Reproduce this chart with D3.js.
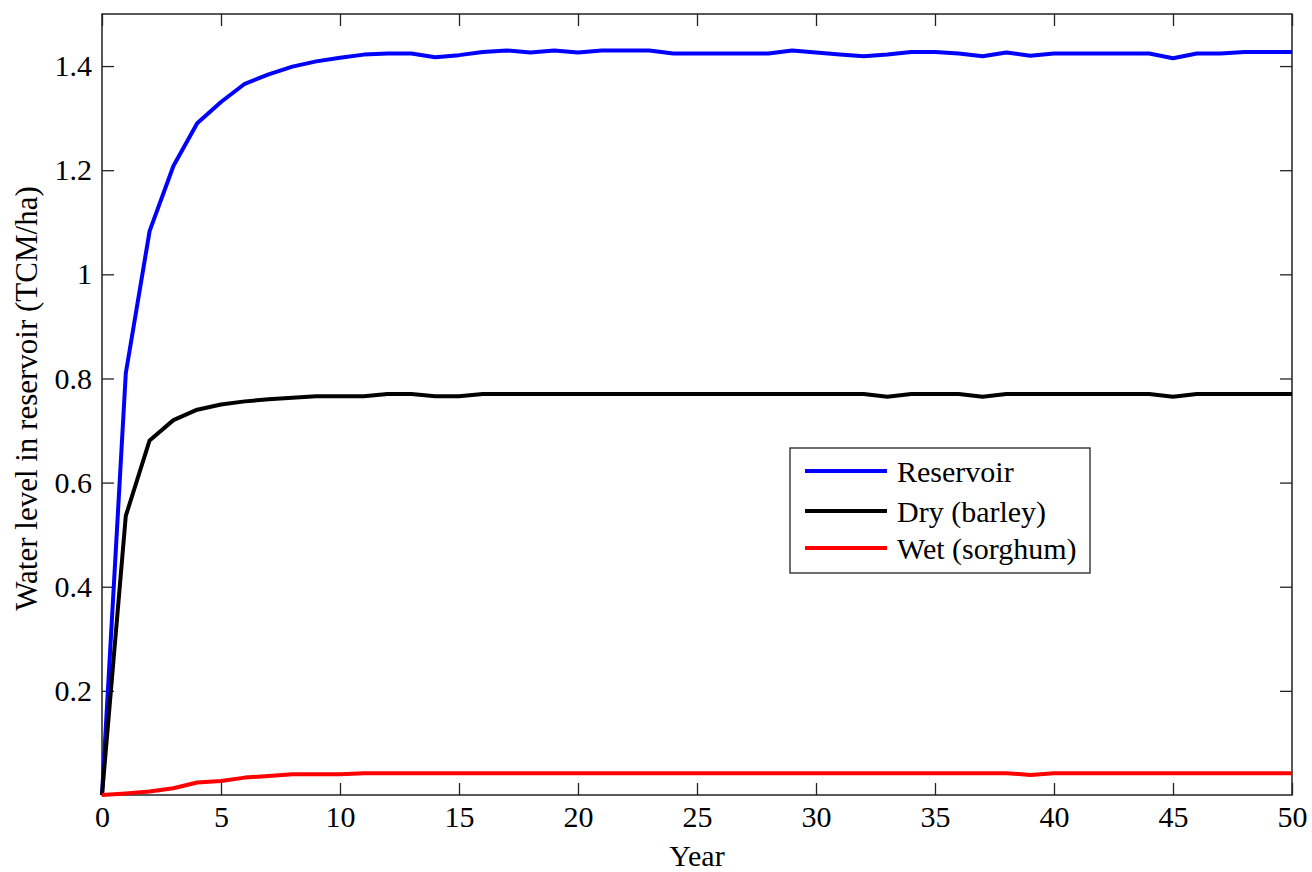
<!DOCTYPE html>
<html>
<head>
<meta charset="utf-8">
<script src="https://cdn.jsdelivr.net/npm/d3@7"></script>
<style>
  html, body { margin: 0; padding: 0; background: #fff; }
  svg { display: block; }
  svg text { font-family: "Liberation Serif", "Tinos", "Times New Roman", "DejaVu Serif", serif; fill: #000; }
</style>
</head>
<body>
<svg id="chart" width="1312" height="872"></svg>
<script>
// Simulated water level (TCM/ha) over 50 years
const years = d3.range(0, 51);

const reservoir = [
  0, 0.810, 1.083, 1.208, 1.290, 1.331, 1.366, 1.384, 1.399, 1.409,
  1.416, 1.422, 1.424, 1.424, 1.417, 1.421, 1.427, 1.430, 1.426, 1.430,
  1.426, 1.430, 1.430, 1.430, 1.424, 1.424, 1.424, 1.424, 1.424, 1.430,
  1.426, 1.422, 1.419, 1.422, 1.427, 1.427, 1.424, 1.419, 1.426, 1.420,
  1.424, 1.424, 1.424, 1.424, 1.424, 1.415, 1.424, 1.424, 1.427, 1.427,
  1.427
];

const dryBarley = [
  0, 0.536, 0.681, 0.720, 0.740, 0.750, 0.756, 0.760, 0.763, 0.766,
  0.766, 0.766, 0.770, 0.770, 0.766, 0.766, 0.770, 0.770, 0.770, 0.770,
  0.770, 0.770, 0.770, 0.770, 0.770, 0.770, 0.770, 0.770, 0.770, 0.770,
  0.770, 0.770, 0.770, 0.765, 0.770, 0.770, 0.770, 0.765, 0.770, 0.770,
  0.770, 0.770, 0.770, 0.770, 0.770, 0.765, 0.770, 0.770, 0.770, 0.770,
  0.770
];

const wetSorghum = [
  0, 0.003, 0.0066, 0.013, 0.024, 0.027, 0.0334, 0.0366, 0.040, 0.040,
  0.040, 0.042, 0.042, 0.042, 0.042, 0.042, 0.042, 0.042, 0.042, 0.042,
  0.042, 0.042, 0.042, 0.042, 0.042, 0.042, 0.042, 0.042, 0.042, 0.042,
  0.042, 0.042, 0.042, 0.042, 0.042, 0.042, 0.042, 0.042, 0.042, 0.0386,
  0.042, 0.042, 0.042, 0.042, 0.042, 0.042, 0.042, 0.042, 0.042, 0.042,
  0.042
];

const seriesNames = ["Reservoir", "Dry (barley)", "Wet (sorghum)"];
const seriesColors = ["#0000ff", "#000000", "#ff0000"];
const xTicks = [0, 5, 10, 15, 20, 25, 30, 35, 40, 45, 50];
const yTicks = [0.2, 0.4, 0.6, 0.8, 1.0, 1.2, 1.4];

const svg = d3.select("#chart");
const m = { left: 102, right: 1292, top: 14, bottom: 795 };

const x = d3.scaleLinear().domain([0, 50]).range([m.left, m.right]);
const y = d3.scaleLinear().domain([0, 1.5]).range([m.bottom, m.top]);

const tickLen = 12;
const fontSize = 30;

// Frame
svg.append("rect")
  .attr("x", m.left).attr("y", m.top)
  .attr("width", m.right - m.left).attr("height", m.bottom - m.top)
  .attr("fill", "none").attr("stroke", "#222").attr("stroke-width", 1.5);

// Axes with inward ticks
const fmt = d => (d === 1 ? "1" : d3.format("~g")(d));

const gx = svg.append("g").attr("transform", `translate(0,${m.bottom})`)
  .call(d3.axisBottom(x).tickValues(xTicks).tickSize(-tickLen).tickPadding(11).tickFormat(d3.format("d")));
const gxTop = svg.append("g").attr("transform", `translate(0,${m.top})`)
  .call(d3.axisTop(x).tickValues(xTicks).tickSize(-tickLen).tickFormat(""));
const gy = svg.append("g").attr("transform", `translate(${m.left},0)`)
  .call(d3.axisLeft(y).tickValues(yTicks).tickSize(-tickLen).tickPadding(10).tickFormat(fmt));
const gyRight = svg.append("g").attr("transform", `translate(${m.right},0)`)
  .call(d3.axisRight(y).tickValues(yTicks).tickSize(-tickLen).tickFormat(""));

[gx, gxTop, gy, gyRight].forEach(g => {
  g.attr("font-family", null).attr("font-size", null);
  g.select(".domain").remove();
  g.selectAll(".tick line").attr("stroke", "#222").attr("stroke-width", 1.3);
  g.selectAll(".tick text").style("font-size", fontSize + "px");
});
gx.selectAll(".tick text").attr("dy", "0.71em");

// Series lines
const line = d3.line().x((d, i) => x(years[i])).y(d => y(d));
const allSeries = [reservoir, dryBarley, wetSorghum];
allSeries.forEach((vals, k) => {
  svg.append("path")
    .datum(vals)
    .attr("d", line)
    .attr("fill", "none")
    .attr("stroke", seriesColors[k])
    .attr("stroke-width", 4)
    .attr("stroke-linejoin", "round");
});

// Axis titles
svg.append("text")
  .attr("x", (m.left + m.right) / 2).attr("y", 866)
  .attr("text-anchor", "middle").style("font-size", fontSize + "px")
  .text("Year");

svg.append("text")
  .attr("transform", `translate(37,${(m.top + m.bottom) / 2 - 6}) rotate(-90)`)
  .attr("text-anchor", "middle").style("font-size", "31px")
  .text("Water level in reservoir (TCM/ha)");

// Legend
const lg = svg.append("g").attr("transform", "translate(790,448)");
lg.append("rect").attr("width", 300).attr("height", 125)
  .attr("fill", "#fff").attr("stroke", "#222").attr("stroke-width", 1.3);
const rowY = [23, 63, 100];
seriesNames.forEach((name, k) => {
  lg.append("line")
    .attr("x1", 15).attr("x2", 97).attr("y1", rowY[k]).attr("y2", rowY[k])
    .attr("stroke", seriesColors[k]).attr("stroke-width", 4);
  lg.append("text")
    .attr("x", 107).attr("y", rowY[k]).attr("dy", "0.35em")
    .style("font-size", "30px").text(name);
});
</script>
</body>
</html>
